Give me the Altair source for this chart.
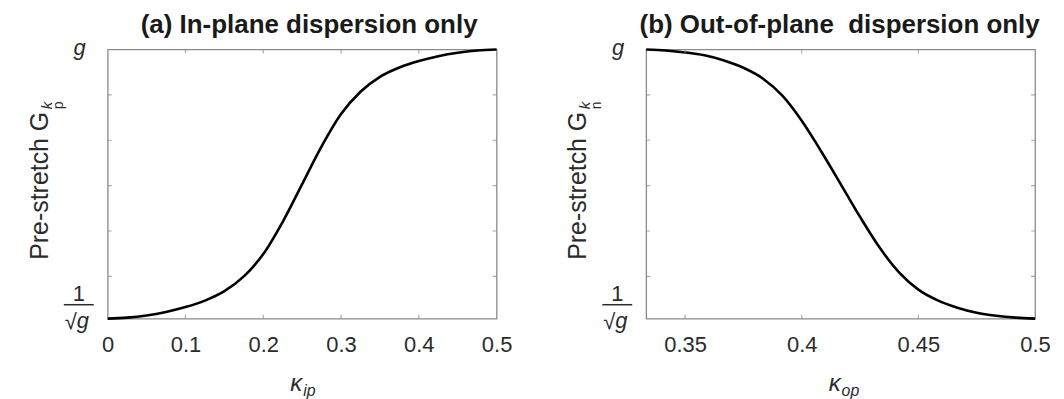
import altair as alt
import pandas as pd

FONT = "Liberation Sans"
TXT = "#2b2b2b"
GREY = "#8a8a8a"

# y scale: from 1/sqrt(g) (bottom) to g (top), g = 3.5
G_TOP = 3.5
G_BOTTOM = 0.5345
Y_TICKS = [1.0, 1.5, 2.0, 2.5, 3.0]

# (a) in-plane dispersion only
A_KAPPA = [0.0, 0.025, 0.05, 0.075, 0.1, 0.125, 0.15, 0.175, 0.2, 0.225, 0.25,
           0.275, 0.3, 0.325, 0.35, 0.375, 0.4, 0.425, 0.45, 0.475, 0.5]
A_G = [0.535, 0.546, 0.570, 0.609, 0.662, 0.733, 0.837, 1.000, 1.246, 1.602, 2.017,
       2.432, 2.788, 3.034, 3.198, 3.301, 3.372, 3.426, 3.464, 3.488, 3.5]
A_XTICKS = [0, 0.1, 0.2, 0.3, 0.4, 0.5]
A_XDOM = [0, 0.5]

# (b) out-of-plane dispersion only
B_KAPPA = [0.33333, 0.3417, 0.35, 0.3583, 0.3667, 0.375, 0.3833, 0.3917, 0.4, 0.4083,
           0.4167, 0.425, 0.4333, 0.4417, 0.45, 0.4583, 0.4667, 0.475, 0.4833, 0.4917, 0.5]
B_G = [3.5, 3.488, 3.467, 3.435, 3.378, 3.298, 3.180, 2.990, 2.714, 2.379,
       2.017, 1.655, 1.320, 1.045, 0.855, 0.736, 0.656, 0.600, 0.567, 0.546, 0.535]
B_XTICKS = [0.35, 0.4, 0.45, 0.5]
B_XDOM = [0.33333, 0.5]

W, H = 390, 270
dummy = pd.DataFrame({"d": [0]})


def txt(s, x, y, size, **kw):
    props = dict(text=s, fontSize=size, font=FONT, color=TXT)
    props.update(kw)
    return alt.Chart(dummy).mark_text(**props).encode(x=alt.value(x), y=alt.value(y))


def panel(kappa, gvals, xdom, xticks, title, title_x, xsub, ysub):
    xs = alt.Scale(domain=xdom, nice=False, zero=False)
    ys = alt.Scale(domain=[G_BOTTOM, G_TOP], nice=False, zero=False)
    xaxis = alt.Axis(values=xticks, format="~g", title=None, ticks=False, domain=False,
                     grid=False, labelFontSize=22, labelFont=FONT, labelColor=TXT,
                     labelPadding=16, labelFlush=False, labelOverlap=False, labelBound=False)
    df = pd.DataFrame({"k": kappa, "G": gvals})
    line = alt.Chart(df).mark_line(color="black", strokeWidth=2.6, interpolate="monotone").encode(
        x=alt.X("k:Q", scale=xs, axis=xaxis),
        y=alt.Y("G:Q", scale=ys, axis=None),
    )
    inner_x = [v for v in xticks if xdom[0] < v < xdom[1]]
    ty = pd.DataFrame({"x": [xdom[0]] * len(Y_TICKS) + [xdom[1]] * len(Y_TICKS),
                       "y": Y_TICKS * 2})
    tx = pd.DataFrame({"x": inner_x * 2,
                       "y": [G_BOTTOM] * len(inner_x) + [G_TOP] * len(inner_x)})
    yticks = alt.Chart(ty).mark_tick(orient="horizontal", size=8, thickness=1.2,
                                     color=GREY, clip=True).encode(
        x=alt.X("x:Q", scale=xs, axis=xaxis), y=alt.Y("y:Q", scale=ys, axis=None))
    xticks_m = alt.Chart(tx).mark_tick(orient="vertical", size=8, thickness=1.2,
                                       color=GREY, clip=True).encode(
        x=alt.X("x:Q", scale=xs, axis=xaxis), y=alt.Y("y:Q", scale=ys, axis=None))

    layers = [
        line, yticks, xticks_m,
        txt(title, title_x, -16, 26, fontWeight="bold", align="center", baseline="alphabetic", color="#1a1a1a"),
        # y-axis title
        txt("Pre-stretch G", -60, 211, 25, angle=270, align="left", baseline="alphabetic"),
        txt("k", -56, 60, 15, angle=270, align="left", baseline="alphabetic", fontStyle="italic"),
        txt(ysub, -45, 60, 14, angle=270, align="left", baseline="alphabetic"),
        # y tick labels
        txt("g", -22, 6, 22, align="right", baseline="alphabetic", fontStyle="italic"),
        txt("1", -29, 252, 22, align="center", baseline="alphabetic"),
        alt.Chart(dummy).mark_rule(color=TXT, strokeWidth=1.5).encode(
            x=alt.value(-44), x2=alt.value(-14), y=alt.value(256)),
        txt("\u221a", -31, 280, 22, align="right", baseline="alphabetic"),
        txt("g", -31, 279, 22, align="left", baseline="alphabetic", fontStyle="italic"),
        # x-axis title
        txt("\u03ba", 195, 343, 24, align="right", baseline="alphabetic", fontStyle="italic"),
        txt(xsub, 196, 348, 16, align="left", baseline="alphabetic", fontStyle="italic"),
    ]
    return alt.layer(*layers).properties(width=W, height=H)


a = panel(A_KAPPA, A_G, A_XDOM, A_XTICKS, "(a) In-plane dispersion only", 202, "ip", "p")
b = panel(B_KAPPA, B_G, B_XDOM, B_XTICKS, "(b) Out-of-plane\u00a0 dispersion only", 194, "op", "n")

chart = alt.hconcat(a, b, spacing=53).properties(
    padding={"left": 19, "top": 3, "right": 5, "bottom": 0}
).configure_view(stroke=GREY, strokeWidth=1.3)

chart.save("out.html", embed_options={"renderer": "svg", "actions": False})
